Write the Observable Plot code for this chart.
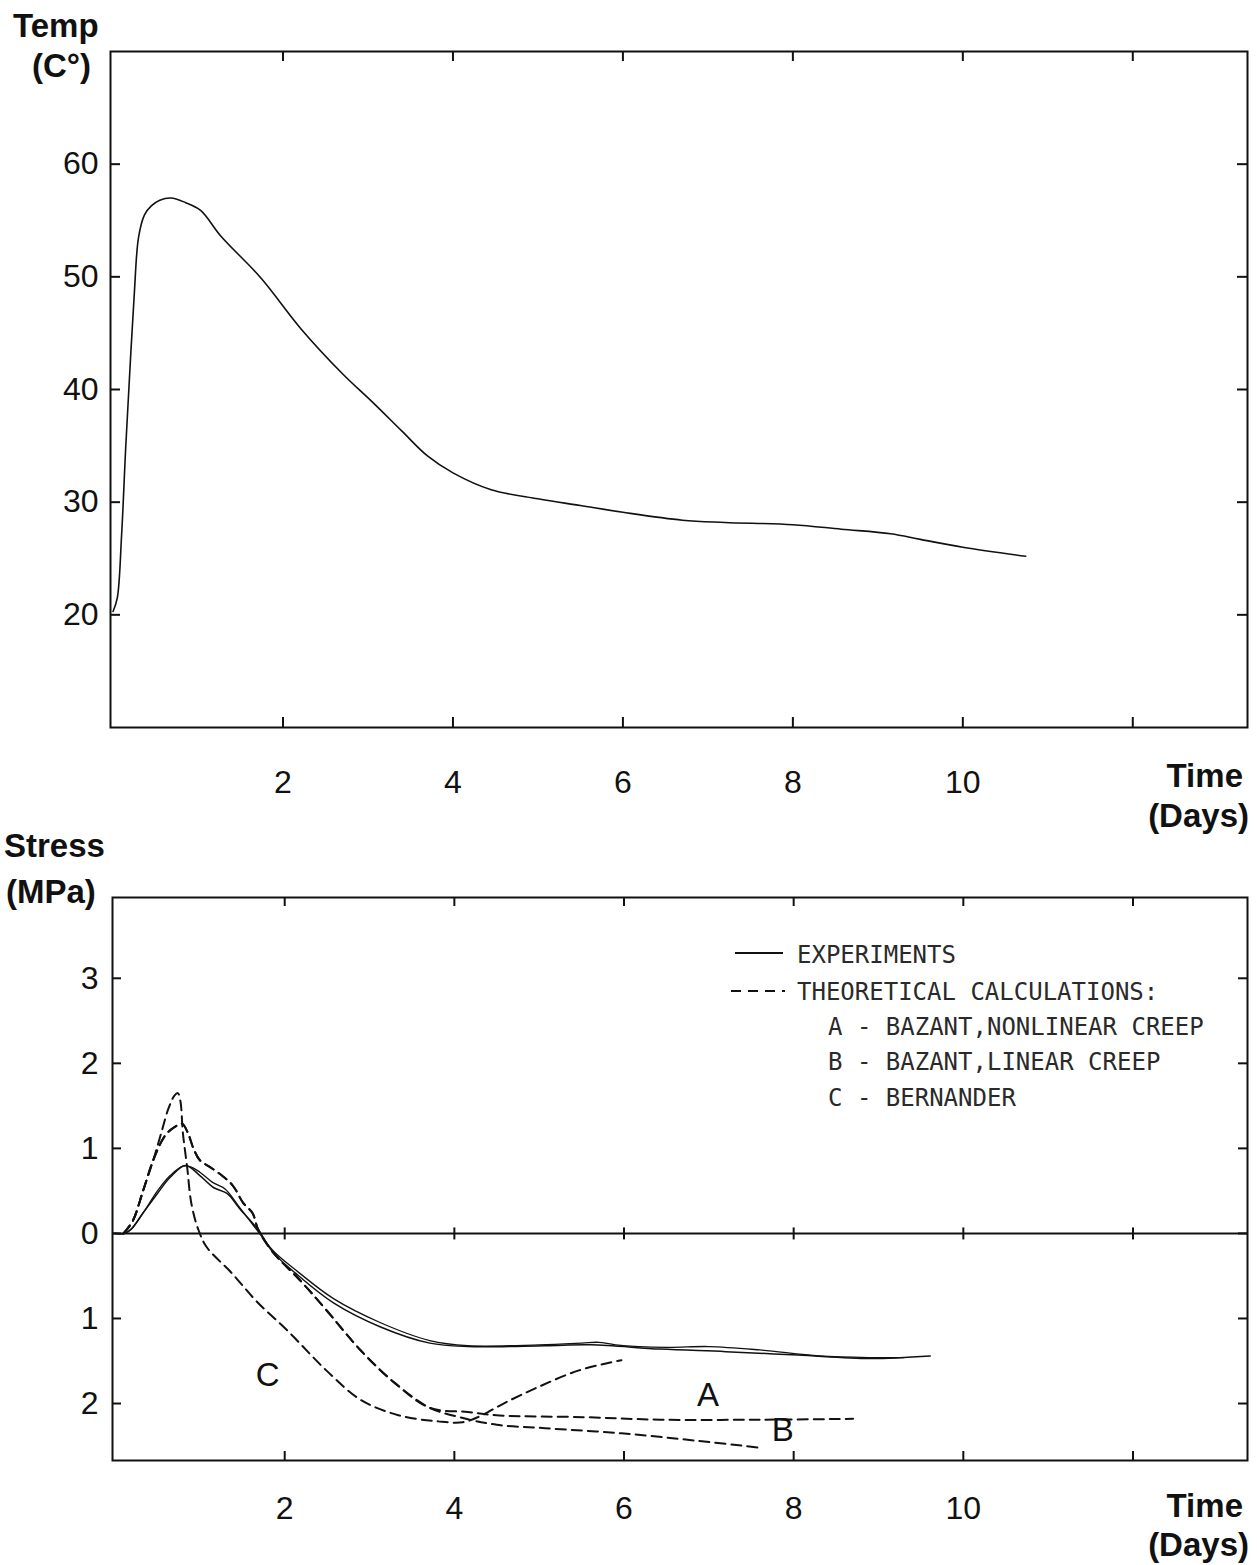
<!DOCTYPE html>
<html><head><meta charset="utf-8">
<script src="https://cdn.jsdelivr.net/npm/d3@7"></script>
<script src="https://cdn.jsdelivr.net/npm/@observablehq/plot@0.6"></script>
<style>
body{margin:0;background:#fff;}
#wrap{position:relative;width:1257px;height:1565px;background:#fff;overflow:hidden;font-family:"Liberation Sans",Arial,Helvetica,sans-serif;color:#111;}
#wrap svg{position:absolute;left:0;}
.t{position:absolute;font-weight:bold;font-size:33px;line-height:1;white-space:nowrap;color:#111;}
.lg{position:absolute;font-family:"DejaVu Sans Mono",monospace;font-size:24px;line-height:1;white-space:nowrap;color:#2a2a2a;}
.sw{position:absolute;height:2px;}
</style></head>
<body><div id="wrap"></div>
<script>
// ---------- data ----------
const timeTicks = [2, 4, 6, 8, 10, 12];
const timeTickLabels = [2, 4, 6, 8, 10];
const tempTicks = [20, 30, 40, 50, 60];
const stressTicks = [-2, -1, 0, 1, 2, 3];

// Temperature (°C) vs time (days)
const tempTime = [0, 0.05, 0.1, 0.15, 0.2, 0.25, 0.3, 0.37, 0.45, 0.55, 0.68, 0.85, 1.03, 1.27, 1.74, 2.21, 2.7, 3.05, 3.4, 3.7, 4.0, 4.45, 5.0, 5.5, 6.0, 6.7, 7.2, 8.0, 8.57, 9.15, 9.5, 10.0, 10.74];
const tempC    = [20.3, 21.5, 27, 35, 42, 48.5, 53.5, 55.5, 56.3, 56.8, 57, 56.6, 55.9, 53.6, 49.9, 45.4, 41.4, 38.9, 36.3, 34.1, 32.6, 31.1, 30.3, 29.7, 29.1, 28.4, 28.2, 28, 27.6, 27.2, 26.7, 26, 25.2];

// Stress (MPa), experiments (two records)
const exp1Time = [0, 0.1, 0.18, 0.33, 0.5, 0.65, 0.83, 1.0, 1.16, 1.32, 1.47, 1.69, 1.86, 2.13, 2.58, 3.13, 3.71, 4.16, 5.07, 5.61, 6.43, 7.2, 8.05, 8.9, 9.61];
const exp1Stress = [0, 0, 0.04, 0.24, 0.47, 0.66, 0.8, 0.68, 0.54, 0.47, 0.29, 0.04, -0.22, -0.47, -0.82, -1.1, -1.29, -1.33, -1.32, -1.31, -1.36, -1.39, -1.43, -1.47, -1.44];
const exp2Time = [0, 0.12, 0.2, 0.35, 0.5, 0.65, 0.8, 0.9, 1.0, 1.15, 1.3, 1.45, 1.68, 1.86, 2.13, 2.58, 3.13, 3.71, 4.16, 5.0, 5.5, 5.7, 5.9, 6.5, 7.0, 7.6, 8.3, 8.9, 9.3];
const exp2Stress = [0, 0, 0.06, 0.27, 0.5, 0.68, 0.79, 0.78, 0.72, 0.6, 0.52, 0.33, 0.03, -0.2, -0.43, -0.77, -1.05, -1.26, -1.32, -1.31, -1.29, -1.28, -1.31, -1.34, -1.33, -1.37, -1.44, -1.46, -1.46];

// Theoretical calculations
const calcCTime = [0.1, 0.21, 0.33, 0.45, 0.55, 0.63, 0.7, 0.74, 0.77, 0.8, 0.85, 0.9, 0.98, 1.08, 1.37, 1.67, 2.04, 2.49, 2.9, 3.35, 3.81, 4.1, 4.3, 4.58, 4.98, 5.47, 5.97];
const calcCStress = [0, 0.15, 0.5, 0.86, 1.2, 1.47, 1.62, 1.65, 1.56, 1.18, 0.78, 0.35, 0.05, -0.16, -0.46, -0.8, -1.15, -1.61, -1.96, -2.14, -2.21, -2.22, -2.15, -2.0, -1.81, -1.61, -1.49];
const calcATime = [0.1, 0.21, 0.33, 0.45, 0.59, 0.7, 0.79, 0.86, 0.92, 1.0, 1.12, 1.26, 1.39, 1.51, 1.62, 1.69, 1.86, 2.18, 2.49, 2.9, 3.3, 3.71, 4.16, 4.53, 5.52, 6.43, 7.59, 8.7];
const calcAStress = [0, 0.15, 0.5, 0.86, 1.15, 1.25, 1.29, 1.18, 1.01, 0.86, 0.78, 0.68, 0.56, 0.36, 0.24, 0.04, -0.22, -0.55, -0.9, -1.38, -1.76, -2.05, -2.1, -2.14, -2.16, -2.19, -2.19, -2.18];
const calcBTime = [0.1, 0.21, 0.33, 0.45, 0.59, 0.7, 0.79, 0.86, 0.92, 1.0, 1.12, 1.26, 1.39, 1.51, 1.62, 1.69, 1.86, 2.18, 2.49, 2.9, 3.3, 3.71, 4.1, 4.5, 5.07, 5.97, 6.88, 7.61];
const calcBStress = [0, 0.15, 0.5, 0.86, 1.15, 1.25, 1.29, 1.18, 1.01, 0.86, 0.78, 0.68, 0.56, 0.36, 0.24, 0.04, -0.22, -0.55, -0.9, -1.38, -1.76, -2.05, -2.17, -2.25, -2.29, -2.35, -2.44, -2.52];

// curve labels
const curveLabels = ["C", "A", "B"];
const curveLabelTime = [1.8, 6.99, 7.87];
const curveLabelStress = [-1.67, -1.91, -2.32];

const legendItems = ["EXPERIMENTS", "THEORETICAL CALCULATIONS:", "A - BAZANT,NONLINEAR CREEP", "B - BAZANT,LINEAR CREEP", "C - BERNANDER"];

// ---------- helpers ----------
const INK = "#111";
const pts = (xs, ys) => xs.map((x, i) => ({x, y: ys[i]}));
const vbar = {draw(ctx, size) { const r = Math.sqrt(size / Math.PI); ctx.moveTo(0, -r); ctx.lineTo(0, r); }};

function frameTicks(xt, yt, innerW, innerH, len) {
  const s = {stroke: INK, strokeWidth: 2};
  return [
    Plot.tickX(xt, {x: d => d, insetTop: innerH - len, ...s}),
    Plot.tickX(xt, {x: d => d, insetBottom: innerH - len, ...s}),
    Plot.tickY(yt, {y: d => d, insetRight: innerW - len, ...s}),
    Plot.tickY(yt, {y: d => d, insetLeft: innerW - len, ...s})
  ];
}

const wrap = document.getElementById("wrap");
const W = 1257;
const xDomain = [-0.03, 13.35];
const font = "'Liberation Sans', Arial, Helvetica, sans-serif";

// ---------- top chart: temperature ----------
{
  const H = 830, mt = 51, mb = 103, ml = 110, mr = 10;
  const chart = Plot.plot({
    width: W, height: H, marginTop: mt, marginBottom: mb, marginLeft: ml, marginRight: mr,
    style: {background: "transparent", color: INK, fontFamily: font, overflow: "visible"},
    x: {domain: xDomain, label: null},
    y: {domain: [10, 70], label: null},
    marks: [
      Plot.frame({stroke: INK, strokeWidth: 2}),
      ...frameTicks(timeTicks, tempTicks, W - ml - mr, H - mt - mb, 10),
      Plot.axisX({ticks: timeTickLabels, tickSize: 0, tickPadding: 43, fontSize: 32, label: null}),
      Plot.axisY({ticks: tempTicks, tickSize: 0, tickPadding: 12, fontSize: 32, label: null}),
      Plot.line(pts(tempTime, tempC), {x: "x", y: "y", stroke: INK, strokeWidth: 1.6, curve: "catmull-rom"})
    ]
  });
  chart.style.top = "0px";
  wrap.appendChild(chart);
}

// ---------- bottom chart: stress ----------
{
  const top = 830, H = 735, mt = 67, mb = 105, ml = 112, mr = 10;
  const dash = "10,6";
  const chart = Plot.plot({
    width: W, height: H, marginTop: mt, marginBottom: mb, marginLeft: ml, marginRight: mr,
    style: {background: "transparent", color: INK, fontFamily: font, overflow: "visible"},
    x: {domain: xDomain, label: null},
    y: {domain: [-2.67, 3.95], label: null},
    marks: [
      Plot.frame({stroke: INK, strokeWidth: 2}),
      ...frameTicks(timeTicks, stressTicks, W - ml - mr, H - mt - mb, 9),
      Plot.ruleY([0], {stroke: INK, strokeWidth: 2}),
      Plot.dot(timeTicks, {x: d => d, y: d => 0, symbol: vbar, r: 6, stroke: INK, strokeWidth: 2, fill: "none"}),
      Plot.axisX({ticks: timeTickLabels, tickSize: 0, tickPadding: 36, fontSize: 32, label: null}),
      Plot.axisY({ticks: stressTicks, tickSize: 0, tickPadding: 14, fontSize: 32, label: null, tickFormat: d => String(Math.abs(d))}),
      Plot.line(pts(exp1Time, exp1Stress), {x: "x", y: "y", stroke: INK, strokeWidth: 1.5, curve: "catmull-rom"}),
      Plot.line(pts(exp2Time, exp2Stress), {x: "x", y: "y", stroke: INK, strokeWidth: 1.3, curve: "catmull-rom"}),
      Plot.line(pts(calcCTime, calcCStress), {x: "x", y: "y", stroke: INK, strokeWidth: 2, strokeDasharray: dash, curve: "catmull-rom"}),
      Plot.line(pts(calcATime, calcAStress), {x: "x", y: "y", stroke: INK, strokeWidth: 2, strokeDasharray: dash, curve: "catmull-rom"}),
      Plot.line(pts(calcBTime, calcBStress), {x: "x", y: "y", stroke: INK, strokeWidth: 2, strokeDasharray: dash, curve: "catmull-rom"}),
      Plot.text(curveLabels, {x: (d, i) => curveLabelTime[i], y: (d, i) => curveLabelStress[i], text: d => d, fontSize: 33, fill: INK})
    ]
  });
  chart.style.top = top + "px";
  wrap.appendChild(chart);
}

// ---------- axis titles (HTML) ----------
function addText(txt, style) {
  const d = document.createElement("div");
  d.className = "t";
  d.textContent = txt;
  Object.assign(d.style, style);
  wrap.appendChild(d);
}
addText("Temp", {left: "13px", top: "9px"});
addText("(C\u00B0)", {left: "32px", top: "49px"});
addText("Time", {right: "14px", top: "759px"});
addText("(Days)", {right: "8px", top: "799px"});
addText("Stress", {left: "4px", top: "829px"});
addText("(MPa)", {left: "6px", top: "875px"});
addText("Time", {right: "14px", top: "1489px"});
addText("(Days)", {right: "8px", top: "1528px"});

// ---------- legend (HTML overlay) ----------
const legendLeft = [797, 797, 828, 828, 828];
const legendTop = [943, 980, 1015, 1050, 1086];
legendItems.forEach((txt, i) => {
  const d = document.createElement("div");
  d.className = "lg";
  d.textContent = txt;
  d.style.left = legendLeft[i] + "px";
  d.style.top = legendTop[i] + "px";
  wrap.appendChild(d);
});
{
  const s = document.createElement("div");
  s.className = "sw";
  Object.assign(s.style, {left: "735px", top: "952px", width: "48px", background: INK});
  wrap.appendChild(s);
  const ds = document.createElement("div");
  ds.className = "sw";
  Object.assign(ds.style, {left: "731px", top: "990px", width: "54px",
    background: "repeating-linear-gradient(90deg, #111 0 10px, transparent 10px 17px)"});
  wrap.appendChild(ds);
}
</script>
</body></html>
